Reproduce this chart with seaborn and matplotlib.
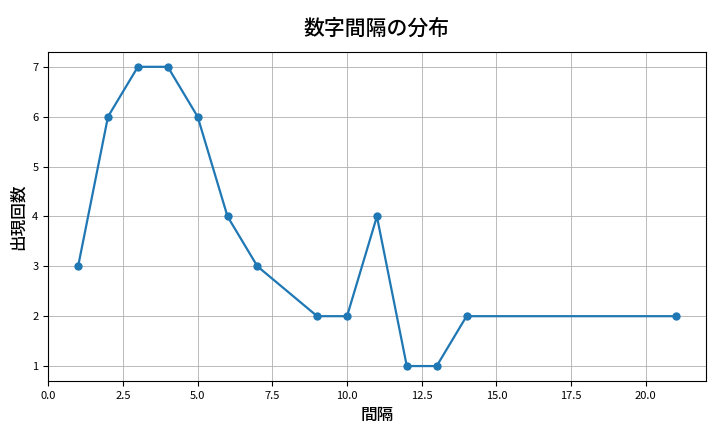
import matplotlib
matplotlib.use("Agg")
import matplotlib.pyplot as plt
import seaborn as sns
import pandas as pd

intervals = [1, 2, 3, 4, 5, 6, 7, 9, 10, 11, 12, 13, 14, 21]
counts = [3, 6, 7, 7, 6, 4, 3, 2, 2, 4, 1, 1, 2, 2]
df = pd.DataFrame({"間隔": intervals, "出現回数": counts})

plt.rcParams['font.family'] = ['Noto Sans CJK JP', 'DejaVu Sans']
fig, ax = plt.subplots(figsize=(7.2, 4.32), dpi=100)
sns.lineplot(data=df, x="間隔", y="出現回数", marker="o", linewidth=1.6,
             markersize=6, markeredgewidth=0, color="#1f77b4", ax=ax)
ax.grid(True, color="#b0b0b0", linewidth=0.6)
ax.set_title("数字間隔の分布", fontsize=15, fontweight="medium", pad=12)
ax.set_xlabel("間隔", fontsize=12, fontweight="medium")
ax.set_ylabel("出現回数", fontsize=12, fontweight="medium")
ax.tick_params(labelsize=8)
fig.subplots_adjust(left=0.067, right=0.98, top=0.88, bottom=0.118)
fig.savefig("out.png", dpi=100)
